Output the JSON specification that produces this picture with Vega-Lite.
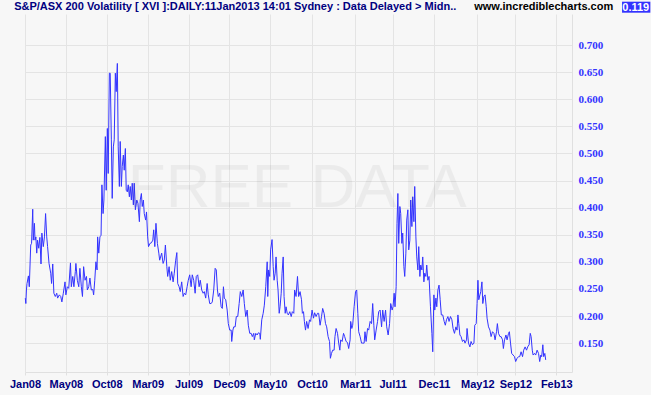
{
  "$schema": "https://vega.github.io/schema/vega-lite/v6.json",
  "width": 547,
  "height": 358,
  "autosize": {"type": "none"},
  "padding": {"left": 25, "top": 14, "right": 79, "bottom": 23},
  "background": "#f7f7f7",
  "config": {
    "view": {"stroke": null},
    "axis": {"domainColor": "#e0e0e0", "tickColor": "#e0e0e0", "labelFlush": false, "labelBound": false}
  },
  "datasets": {
    "xvi": [
      {"date":"2008-01-02","value":0.233},{"date":"2008-01-04","value":0.223},{"date":"2008-01-06","value":0.248},{"date":"2008-01-08","value":0.260},{"date":"2008-01-13","value":0.274},{"date":"2008-01-16","value":0.254},{"date":"2008-01-21","value":0.331},{"date":"2008-01-24","value":0.334},{"date":"2008-01-28","value":0.397},{"date":"2008-01-30","value":0.340},
      {"date":"2008-02-03","value":0.371},{"date":"2008-02-05","value":0.340},{"date":"2008-02-08","value":0.346},{"date":"2008-02-11","value":0.316},{"date":"2008-02-14","value":0.340},{"date":"2008-02-18","value":0.325},{"date":"2008-02-22","value":0.345},{"date":"2008-02-26","value":0.296},{"date":"2008-02-29","value":0.353},
      {"date":"2008-03-05","value":0.328},{"date":"2008-03-09","value":0.346},{"date":"2008-03-13","value":0.389},{"date":"2008-03-17","value":0.346},{"date":"2008-03-20","value":0.328},{"date":"2008-03-25","value":0.297},{"date":"2008-03-31","value":0.279},
      {"date":"2008-04-03","value":0.260},{"date":"2008-04-07","value":0.296},{"date":"2008-04-11","value":0.242},{"date":"2008-04-16","value":0.236},{"date":"2008-04-21","value":0.242},{"date":"2008-04-24","value":0.233},{"date":"2008-04-30","value":0.239},
      {"date":"2008-05-05","value":0.236},{"date":"2008-05-09","value":0.226},{"date":"2008-05-14","value":0.242},{"date":"2008-05-20","value":0.263},{"date":"2008-05-23","value":0.239},{"date":"2008-05-28","value":0.254},
      {"date":"2008-06-02","value":0.251},{"date":"2008-06-08","value":0.298},{"date":"2008-06-11","value":0.254},{"date":"2008-06-16","value":0.273},{"date":"2008-06-20","value":0.254},{"date":"2008-06-25","value":0.282},{"date":"2008-06-27","value":0.297},
      {"date":"2008-07-02","value":0.266},{"date":"2008-07-07","value":0.254},{"date":"2008-07-11","value":0.288},{"date":"2008-07-16","value":0.254},{"date":"2008-07-20","value":0.236},{"date":"2008-07-24","value":0.291},{"date":"2008-07-29","value":0.266},
      {"date":"2008-08-03","value":0.273},{"date":"2008-08-06","value":0.248},{"date":"2008-08-11","value":0.254},{"date":"2008-08-15","value":0.270},{"date":"2008-08-20","value":0.248},{"date":"2008-08-25","value":0.249},{"date":"2008-08-28","value":0.239},
      {"date":"2008-09-01","value":0.266},{"date":"2008-09-05","value":0.300},{"date":"2008-09-09","value":0.285},{"date":"2008-09-11","value":0.346},{"date":"2008-09-15","value":0.316},{"date":"2008-09-19","value":0.346},{"date":"2008-09-23","value":0.349},{"date":"2008-09-26","value":0.442},{"date":"2008-09-30","value":0.389},
      {"date":"2008-10-03","value":0.414},{"date":"2008-10-08","value":0.531},{"date":"2008-10-11","value":0.432},{"date":"2008-10-15","value":0.546},{"date":"2008-10-18","value":0.463},{"date":"2008-10-22","value":0.648},{"date":"2008-10-25","value":0.648},{"date":"2008-10-29","value":0.525},
      {"date":"2008-11-01","value":0.417},{"date":"2008-11-05","value":0.512},{"date":"2008-11-08","value":0.525},{"date":"2008-11-12","value":0.648},{"date":"2008-11-15","value":0.614},{"date":"2008-11-19","value":0.666},{"date":"2008-11-22","value":0.512},{"date":"2008-11-26","value":0.439},{"date":"2008-11-29","value":0.522},
      {"date":"2008-12-03","value":0.439},{"date":"2008-12-06","value":0.476},{"date":"2008-12-10","value":0.497},{"date":"2008-12-13","value":0.469},{"date":"2008-12-17","value":0.509},{"date":"2008-12-20","value":0.432},{"date":"2008-12-24","value":0.429},{"date":"2008-12-27","value":0.442},{"date":"2008-12-31","value":0.420},
      {"date":"2009-01-03","value":0.439},{"date":"2009-01-07","value":0.414},{"date":"2009-01-10","value":0.445},{"date":"2009-01-14","value":0.405},{"date":"2009-01-17","value":0.445},{"date":"2009-01-21","value":0.396},{"date":"2009-01-26","value":0.414},{"date":"2009-01-30","value":0.408},
      {"date":"2009-02-04","value":0.374},{"date":"2009-02-07","value":0.414},{"date":"2009-02-11","value":0.426},{"date":"2009-02-14","value":0.402},{"date":"2009-02-18","value":0.414},{"date":"2009-02-21","value":0.389},{"date":"2009-02-26","value":0.377},
      {"date":"2009-03-01","value":0.392},{"date":"2009-03-05","value":0.346},{"date":"2009-03-08","value":0.328},{"date":"2009-03-13","value":0.334},{"date":"2009-03-18","value":0.335},{"date":"2009-03-23","value":0.340},{"date":"2009-03-26","value":0.359},{"date":"2009-03-30","value":0.328},
      {"date":"2009-04-03","value":0.371},{"date":"2009-04-08","value":0.334},{"date":"2009-04-13","value":0.316},{"date":"2009-04-16","value":0.303},{"date":"2009-04-23","value":0.316},{"date":"2009-04-28","value":0.297},
      {"date":"2009-05-02","value":0.303},{"date":"2009-05-06","value":0.331},{"date":"2009-05-11","value":0.291},{"date":"2009-05-14","value":0.273},{"date":"2009-05-19","value":0.291},{"date":"2009-05-23","value":0.266},{"date":"2009-05-28","value":0.282},
      {"date":"2009-06-02","value":0.263},{"date":"2009-06-06","value":0.279},{"date":"2009-06-11","value":0.303},{"date":"2009-06-15","value":0.317},{"date":"2009-06-18","value":0.260},{"date":"2009-06-23","value":0.254},{"date":"2009-06-27","value":0.245},
      {"date":"2009-07-02","value":0.263},{"date":"2009-07-07","value":0.236},{"date":"2009-07-11","value":0.242},{"date":"2009-07-16","value":0.239},{"date":"2009-07-21","value":0.254},{"date":"2009-07-25","value":0.266},{"date":"2009-07-30","value":0.276},
      {"date":"2009-08-04","value":0.254},{"date":"2009-08-08","value":0.276},{"date":"2009-08-13","value":0.266},{"date":"2009-08-18","value":0.242},{"date":"2009-08-22","value":0.273},{"date":"2009-08-27","value":0.276},
      {"date":"2009-09-01","value":0.254},{"date":"2009-09-05","value":0.266},{"date":"2009-09-10","value":0.248},{"date":"2009-09-15","value":0.242},{"date":"2009-09-19","value":0.245},{"date":"2009-09-24","value":0.233},{"date":"2009-09-29","value":0.260},
      {"date":"2009-10-03","value":0.239},{"date":"2009-10-08","value":0.223},{"date":"2009-10-13","value":0.223},{"date":"2009-10-17","value":0.226},{"date":"2009-10-22","value":0.248},{"date":"2009-10-27","value":0.288},{"date":"2009-10-31","value":0.285},
      {"date":"2009-11-04","value":0.248},{"date":"2009-11-07","value":0.236},{"date":"2009-11-12","value":0.242},{"date":"2009-11-17","value":0.217},{"date":"2009-11-21","value":0.214},{"date":"2009-11-25","value":0.254},{"date":"2009-11-28","value":0.233},
      {"date":"2009-12-03","value":0.230},{"date":"2009-12-08","value":0.211},{"date":"2009-12-12","value":0.186},{"date":"2009-12-17","value":0.174},{"date":"2009-12-22","value":0.174},{"date":"2009-12-24","value":0.153},{"date":"2009-12-28","value":0.174},{"date":"2009-12-31","value":0.180},
      {"date":"2010-01-05","value":0.180},{"date":"2010-01-09","value":0.199},{"date":"2010-01-14","value":0.199},{"date":"2010-01-19","value":0.223},{"date":"2010-01-23","value":0.245},{"date":"2010-01-28","value":0.236},
      {"date":"2010-02-02","value":0.248},{"date":"2010-02-06","value":0.223},{"date":"2010-02-11","value":0.199},{"date":"2010-02-16","value":0.211},{"date":"2010-02-20","value":0.183},{"date":"2010-02-25","value":0.168},
      {"date":"2010-03-02","value":0.168},{"date":"2010-03-06","value":0.162},{"date":"2010-03-11","value":0.168},{"date":"2010-03-13","value":0.156},{"date":"2010-03-18","value":0.168},{"date":"2010-03-23","value":0.165},{"date":"2010-03-27","value":0.169},
      {"date":"2010-04-01","value":0.168},{"date":"2010-04-03","value":0.157},{"date":"2010-04-08","value":0.193},{"date":"2010-04-13","value":0.205},{"date":"2010-04-17","value":0.220},{"date":"2010-04-22","value":0.254},{"date":"2010-04-27","value":0.300},{"date":"2010-04-29","value":0.236},
      {"date":"2010-05-02","value":0.285},{"date":"2010-05-06","value":0.273},{"date":"2010-05-09","value":0.322},{"date":"2010-05-14","value":0.341},{"date":"2010-05-18","value":0.291},{"date":"2010-05-21","value":0.266},{"date":"2010-05-25","value":0.279},{"date":"2010-05-28","value":0.309},
      {"date":"2010-06-01","value":0.266},{"date":"2010-06-04","value":0.248},{"date":"2010-06-08","value":0.205},{"date":"2010-06-11","value":0.217},{"date":"2010-06-15","value":0.242},{"date":"2010-06-18","value":0.279},{"date":"2010-06-22","value":0.309},{"date":"2010-06-25","value":0.236},{"date":"2010-06-29","value":0.205},
      {"date":"2010-07-02","value":0.217},{"date":"2010-07-06","value":0.205},{"date":"2010-07-10","value":0.202},{"date":"2010-07-15","value":0.208},{"date":"2010-07-20","value":0.199},{"date":"2010-07-24","value":0.208},{"date":"2010-07-29","value":0.205},
      {"date":"2010-08-01","value":0.248},{"date":"2010-08-06","value":0.236},{"date":"2010-08-11","value":0.273},{"date":"2010-08-15","value":0.236},{"date":"2010-08-20","value":0.245},{"date":"2010-08-25","value":0.230},{"date":"2010-08-28","value":0.205},
      {"date":"2010-09-01","value":0.208},{"date":"2010-09-04","value":0.190},{"date":"2010-09-08","value":0.174},{"date":"2010-09-12","value":0.190},{"date":"2010-09-17","value":0.177},{"date":"2010-09-22","value":0.193},{"date":"2010-09-26","value":0.190},
      {"date":"2010-10-01","value":0.211},{"date":"2010-10-06","value":0.196},{"date":"2010-10-10","value":0.206},{"date":"2010-10-15","value":0.199},{"date":"2010-10-20","value":0.205},{"date":"2010-10-24","value":0.205},{"date":"2010-10-29","value":0.183},
      {"date":"2010-11-03","value":0.199},{"date":"2010-11-07","value":0.214},{"date":"2010-11-12","value":0.205},{"date":"2010-11-17","value":0.186},{"date":"2010-11-21","value":0.180},{"date":"2010-11-26","value":0.162},
      {"date":"2010-12-01","value":0.153},{"date":"2010-12-04","value":0.122},{"date":"2010-12-08","value":0.131},{"date":"2010-12-12","value":0.137},{"date":"2010-12-17","value":0.137},{"date":"2010-12-20","value":0.162},{"date":"2010-12-24","value":0.177},{"date":"2010-12-29","value":0.168},
      {"date":"2011-01-02","value":0.150},{"date":"2011-01-06","value":0.137},{"date":"2011-01-09","value":0.156},{"date":"2011-01-14","value":0.153},{"date":"2011-01-19","value":0.168},{"date":"2011-01-23","value":0.162},{"date":"2011-01-28","value":0.153},
      {"date":"2011-02-02","value":0.151},{"date":"2011-02-06","value":0.140},{"date":"2011-02-11","value":0.156},{"date":"2011-02-13","value":0.190},{"date":"2011-02-17","value":0.177},{"date":"2011-02-20","value":0.183},{"date":"2011-02-25","value":0.217},
      {"date":"2011-03-02","value":0.245},{"date":"2011-03-06","value":0.248},{"date":"2011-03-10","value":0.205},{"date":"2011-03-13","value":0.171},{"date":"2011-03-18","value":0.162},{"date":"2011-03-23","value":0.150},{"date":"2011-03-27","value":0.150},
      {"date":"2011-04-01","value":0.150},{"date":"2011-04-04","value":0.171},{"date":"2011-04-08","value":0.153},{"date":"2011-04-13","value":0.177},{"date":"2011-04-17","value":0.174},{"date":"2011-04-22","value":0.190},{"date":"2011-04-27","value":0.186},
      {"date":"2011-05-01","value":0.223},{"date":"2011-05-05","value":0.183},{"date":"2011-05-08","value":0.156},{"date":"2011-05-13","value":0.174},{"date":"2011-05-18","value":0.190},{"date":"2011-05-22","value":0.208},{"date":"2011-05-27","value":0.211},
      {"date":"2011-06-01","value":0.180},{"date":"2011-06-05","value":0.211},{"date":"2011-06-10","value":0.190},{"date":"2011-06-15","value":0.211},{"date":"2011-06-19","value":0.180},{"date":"2011-06-24","value":0.165},{"date":"2011-06-29","value":0.186},
      {"date":"2011-07-03","value":0.223},{"date":"2011-07-08","value":0.211},{"date":"2011-07-11","value":0.217},{"date":"2011-07-15","value":0.242},{"date":"2011-07-18","value":0.217},{"date":"2011-07-22","value":0.254},{"date":"2011-07-25","value":0.371},{"date":"2011-07-28","value":0.426},{"date":"2011-07-31","value":0.334},
      {"date":"2011-08-04","value":0.402},{"date":"2011-08-07","value":0.389},{"date":"2011-08-11","value":0.334},{"date":"2011-08-14","value":0.353},{"date":"2011-08-18","value":0.291},{"date":"2011-08-21","value":0.273},{"date":"2011-08-25","value":0.316},{"date":"2011-08-28","value":0.377},
      {"date":"2011-09-01","value":0.396},{"date":"2011-09-04","value":0.322},{"date":"2011-09-08","value":0.340},{"date":"2011-09-11","value":0.414},{"date":"2011-09-15","value":0.365},{"date":"2011-09-18","value":0.420},{"date":"2011-09-22","value":0.374},{"date":"2011-09-25","value":0.439},{"date":"2011-09-29","value":0.346},
      {"date":"2011-10-02","value":0.309},{"date":"2011-10-06","value":0.285},{"date":"2011-10-09","value":0.328},{"date":"2011-10-13","value":0.273},{"date":"2011-10-16","value":0.294},{"date":"2011-10-20","value":0.285},{"date":"2011-10-23","value":0.309},{"date":"2011-10-27","value":0.263},{"date":"2011-10-30","value":0.279},
      {"date":"2011-11-03","value":0.273},{"date":"2011-11-06","value":0.294},{"date":"2011-11-10","value":0.266},{"date":"2011-11-14","value":0.273},{"date":"2011-11-19","value":0.217},{"date":"2011-11-24","value":0.168},{"date":"2011-11-27","value":0.134},
      {"date":"2011-12-01","value":0.239},{"date":"2011-12-04","value":0.211},{"date":"2011-12-08","value":0.233},{"date":"2011-12-11","value":0.217},{"date":"2011-12-15","value":0.248},{"date":"2011-12-19","value":0.257},{"date":"2011-12-23","value":0.230},{"date":"2011-12-27","value":0.202},
      {"date":"2012-01-01","value":0.202},{"date":"2012-01-06","value":0.190},{"date":"2012-01-10","value":0.183},{"date":"2012-01-14","value":0.193},{"date":"2012-01-19","value":0.199},{"date":"2012-01-23","value":0.190},{"date":"2012-01-28","value":0.199},
      {"date":"2012-02-02","value":0.193},{"date":"2012-02-06","value":0.177},{"date":"2012-02-11","value":0.168},{"date":"2012-02-16","value":0.180},{"date":"2012-02-20","value":0.174},{"date":"2012-02-23","value":0.202},{"date":"2012-02-26","value":0.186},
      {"date":"2012-03-01","value":0.165},{"date":"2012-03-05","value":0.162},{"date":"2012-03-10","value":0.153},{"date":"2012-03-15","value":0.156},{"date":"2012-03-19","value":0.150},{"date":"2012-03-24","value":0.156},{"date":"2012-03-26","value":0.177},{"date":"2012-03-31","value":0.150},
      {"date":"2012-04-05","value":0.143},{"date":"2012-04-09","value":0.153},{"date":"2012-04-14","value":0.147},{"date":"2012-04-19","value":0.150},{"date":"2012-04-22","value":0.183},{"date":"2012-04-27","value":0.186},{"date":"2012-04-30","value":0.223},
      {"date":"2012-05-03","value":0.266},{"date":"2012-05-06","value":0.230},{"date":"2012-05-10","value":0.239},{"date":"2012-05-13","value":0.245},{"date":"2012-05-17","value":0.263},{"date":"2012-05-20","value":0.223},{"date":"2012-05-24","value":0.236},{"date":"2012-05-28","value":0.239},
      {"date":"2012-06-01","value":0.217},{"date":"2012-06-04","value":0.196},{"date":"2012-06-09","value":0.180},{"date":"2012-06-14","value":0.174},{"date":"2012-06-18","value":0.162},{"date":"2012-06-23","value":0.171},{"date":"2012-06-28","value":0.168},
      {"date":"2012-07-02","value":0.156},{"date":"2012-07-07","value":0.171},{"date":"2012-07-10","value":0.186},{"date":"2012-07-14","value":0.168},{"date":"2012-07-19","value":0.162},{"date":"2012-07-23","value":0.162},{"date":"2012-07-28","value":0.156},{"date":"2012-07-31","value":0.140},
      {"date":"2012-08-04","value":0.156},{"date":"2012-08-09","value":0.165},{"date":"2012-08-13","value":0.156},{"date":"2012-08-18","value":0.168},{"date":"2012-08-21","value":0.171},{"date":"2012-08-25","value":0.150},{"date":"2012-08-29","value":0.131},
      {"date":"2012-09-03","value":0.128},{"date":"2012-09-08","value":0.125},{"date":"2012-09-12","value":0.116},{"date":"2012-09-17","value":0.122},{"date":"2012-09-22","value":0.125},{"date":"2012-09-26","value":0.125},
      {"date":"2012-10-01","value":0.134},{"date":"2012-10-06","value":0.125},{"date":"2012-10-10","value":0.137},{"date":"2012-10-15","value":0.143},{"date":"2012-10-20","value":0.137},{"date":"2012-10-24","value":0.143},{"date":"2012-10-29","value":0.147},
      {"date":"2012-11-02","value":0.168},{"date":"2012-11-05","value":0.162},{"date":"2012-11-09","value":0.137},{"date":"2012-11-12","value":0.128},{"date":"2012-11-17","value":0.131},{"date":"2012-11-21","value":0.128},{"date":"2012-11-26","value":0.137},
      {"date":"2012-12-01","value":0.131},{"date":"2012-12-05","value":0.116},{"date":"2012-12-09","value":0.128},{"date":"2012-12-12","value":0.125},{"date":"2012-12-16","value":0.147},{"date":"2012-12-19","value":0.125},{"date":"2012-12-23","value":0.131},{"date":"2012-12-26","value":0.119}
    ]
  },
  "layer": [
    {
      "data": {"name": "xvi"},
      "mark": {"type": "line", "color": "#3333ff", "strokeWidth": 1},
      "encoding": {
        "x": {
          "field": "date", "type": "temporal", "title": null,
          "scale": {"type": "utc", "domain": [{"year": 2008, "month": 1, "date": 1, "utc": true}, {"year": 2013, "month": 3, "date": 28, "utc": true}]},
          "axis": {
            "orient": "bottom",
            "values": [
              {"year": 2008, "month": 1, "date": 1, "utc": true},
              {"year": 2008, "month": 5, "date": 23, "utc": true},
              {"year": 2008, "month": 10, "date": 13, "utc": true},
              {"year": 2009, "month": 3, "date": 5, "utc": true},
              {"year": 2009, "month": 7, "date": 26, "utc": true},
              {"year": 2009, "month": 12, "date": 15, "utc": true},
              {"year": 2010, "month": 5, "date": 7, "utc": true},
              {"year": 2010, "month": 10, "date": 1, "utc": true},
              {"year": 2011, "month": 3, "date": 1, "utc": true},
              {"year": 2011, "month": 7, "date": 10, "utc": true},
              {"year": 2011, "month": 12, "date": 1, "utc": true},
              {"year": 2012, "month": 5, "date": 1, "utc": true},
              {"year": 2012, "month": 9, "date": 11, "utc": true},
              {"year": 2013, "month": 2, "date": 1, "utc": true}
            ],
            "format": "%b%y",
            "grid": true,
            "gridColor": "#e4e4e4",
            "tickSize": 3,
            "labelPadding": 3,
            "labelOverlap": false,
            "labelFont": "Liberation Sans",
            "labelFontSize": 11,
            "labelFontWeight": "bold",
            "labelColor": "#000080"
          }
        },
        "y": {
          "field": "value", "type": "quantitative", "title": null,
          "scale": {"domain": [0.0967, 0.7572], "nice": false, "zero": false},
          "axis": {
            "orient": "right",
            "tickCount": 13,
            "labelExpr": "datum.value < 0.12 || datum.value > 0.72 ? '' : format(datum.value, '.3f')",
            "grid": true,
            "gridColor": {"condition": {"test": "datum.value < 0.12 || datum.value > 0.72", "value": "transparent"}, "value": "#e4e4e4"},
            "ticks": false,
            "labelOverlap": false,
            "labelPadding": 6,
            "labelFont": "Liberation Serif",
            "labelFontSize": 11,
            "labelFontWeight": "bold",
            "labelColor": "#3333ff"
          }
        }
      }
    },
    {
      "data": {"values": [{"label": "FREE DATA"}]},
      "mark": {"type": "text", "font": "Liberation Sans", "fontSize": 62, "color": "#000000", "opacity": 0.045, "align": "center", "baseline": "alphabetic"},
      "encoding": {
        "x": {"datum": {"year": 2010, "month": 8, "date": 10, "utc": true}, "type": "temporal", "title": null},
        "y": {"datum": 0.401, "type": "quantitative", "title": null},
        "text": {"field": "label"}
      }
    },
    {
      "data": {"values": [{"label": "S&P/ASX 200 Volatility [ XVI ]:DAILY:11Jan2013 14:01 Sydney : Data Delayed > Midn.."}]},
      "mark": {"type": "text", "font": "Liberation Sans", "fontSize": 11, "fontWeight": "bold", "color": "#000080", "align": "left", "baseline": "alphabetic"},
      "encoding": {
        "x": {"datum": {"year": 2007, "month": 11, "date": 24, "utc": true}, "type": "temporal", "title": null},
        "y": {"datum": 0.7646, "type": "quantitative", "title": null},
        "text": {"field": "label"}
      }
    },
    {
      "data": {"values": [{"label": "www.incrediblecharts.com"}]},
      "mark": {"type": "text", "font": "Liberation Sans", "fontSize": 11, "fontWeight": "bold", "color": "#000000", "align": "left", "baseline": "alphabetic"},
      "encoding": {
        "x": {"datum": {"year": 2012, "month": 4, "date": 20, "utc": true}, "type": "temporal", "title": null},
        "y": {"datum": 0.7646, "type": "quantitative", "title": null},
        "text": {"field": "label"}
      }
    },
    {
      "data": {"values": [{"label": "0.119"}]},
      "mark": {"type": "rect", "color": "#3333ff"},
      "encoding": {
        "x": {"datum": {"year": 2013, "month": 9, "date": 19, "utc": true}, "type": "temporal", "title": null},
        "x2": {"datum": {"year": 2013, "month": 12, "date": 27, "utc": true}},
        "y": {"datum": 0.7799, "type": "quantitative", "title": null},
        "y2": {"datum": 0.7596}
      }
    },
    {
      "data": {"values": [{"label": "0.119"}]},
      "mark": {"type": "text", "font": "Liberation Sans", "fontSize": 11, "fontWeight": "bold", "color": "#ffffff", "align": "center", "baseline": "alphabetic"},
      "encoding": {
        "x": {"datum": {"year": 2013, "month": 11, "date": 6, "utc": true}, "type": "temporal", "title": null},
        "y": {"datum": 0.7627, "type": "quantitative", "title": null},
        "text": {"field": "label"}
      }
    }
  ]
}
